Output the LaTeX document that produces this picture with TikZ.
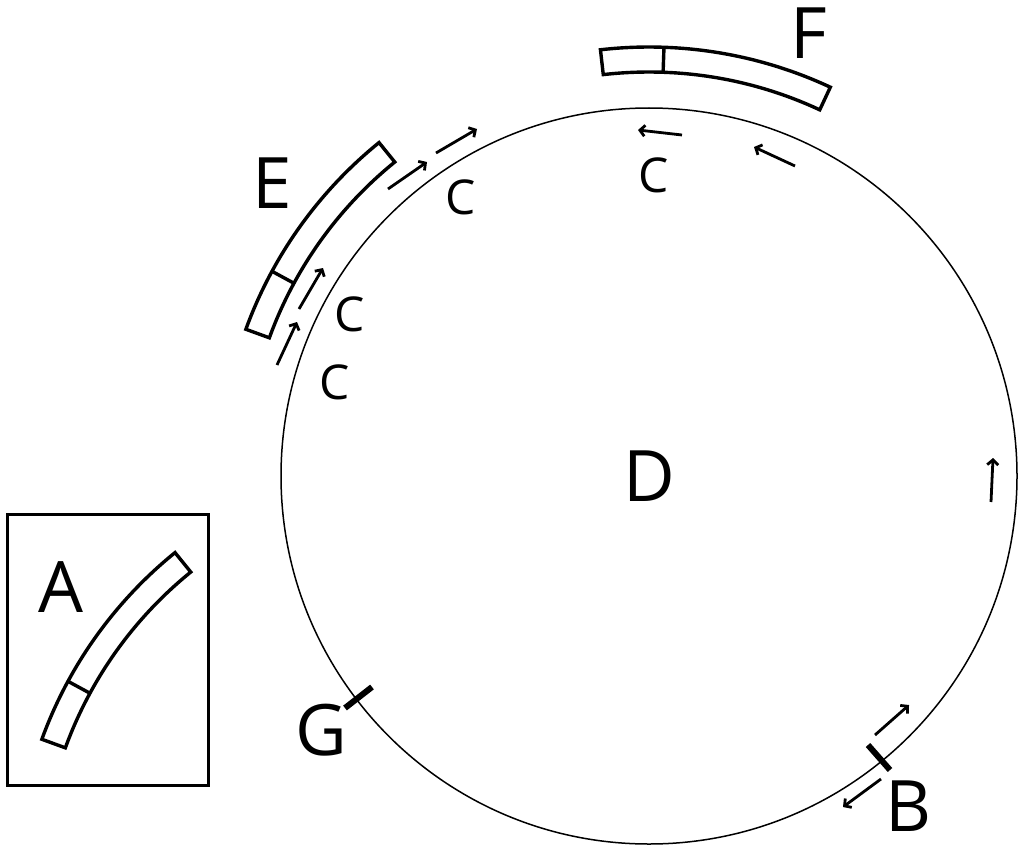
\documentclass[tikz,border=0pt]{standalone}
\usepackage{fontspec}
\setmainfont{Open Sans}
\usetikzlibrary{arrows.meta,calc}
% #1 centre, #2 start angle, #3 divider angle, #4 end angle (angles measured counter-clockwise, y up)
\newcommand{\plasmidband}[4]{%
  \draw[bandline] ($(#1)+({-#2}:404)$) arc[start angle={-#2}, end angle={-#4}, radius=404]
     -- ($(#1)+({-#4}:429)$) arc[start angle={-#4}, end angle={-#2}, radius=429] -- cycle;
  \draw[bandline] ($(#1)+({-#3}:404)$) -- ($(#1)+({-#3}:429)$);
}
\begin{document}
\begin{tikzpicture}[x=1pt,y=-1pt,
  bandline/.style={line width=3.4pt, line join=miter},
  arr/.style={line width=2.8pt, -{Straight Barb[length=5pt,width=11pt]}},
  tickmark/.style={line width=6pt},
  labelbig/.style={font=\fontsize{71}{80}\selectfont, inner sep=0pt},
  labelsmall/.style={font=\fontsize{48}{56}\selectfont, inner sep=0pt}]
\useasboundingbox (0,0) rectangle (1024,853);

% plasmid circle
\node[draw, circle, line width=1.5pt, minimum size=736pt, inner sep=0pt, labelbig] (D) at (649,476) {D};
\coordinate (Dc) at (649,476);

% inserted bands
\plasmidband{Dc}{129}{151.5}{160}
\plasmidband{Dc}{65}{88}{96.5}

% box A
\draw[line width=3pt] (7.5,514) rectangle (208,785);
\coordinate (Ac) at (445,886);
\plasmidband{Ac}{129}{151.5}{160}

% tick marks
\draw[tickmark] (345,708) -- (372,687);
\draw[tickmark] (868,745) -- (890,770);

% arrows
\coordinate (a1s) at (388,189); \coordinate (a1e) at (427,162);
\coordinate (a2s) at (436,153); \coordinate (a2e) at (477,129);
\coordinate (a3s) at (299,309); \coordinate (a3e) at (323,268);
\coordinate (a4s) at (277,365); \coordinate (a4e) at (297,322);
\coordinate (a5s) at (682,135); \coordinate (a5e) at (638,130);
\coordinate (a6s) at (795,166); \coordinate (a6e) at (754,147);
\coordinate (a7s) at (875,735); \coordinate (a7e) at (909,705);
\coordinate (a8s) at (881,779); \coordinate (a8e) at (843,807);
\coordinate (a9s) at (991,502); \coordinate (a9e) at (993,458);
\foreach \i in {1,...,9} {\draw[arr] (a\i s) -- (a\i e);}

% labels
\node[labelbig] (E) at (272,183) {E};
\node[labelbig] (F) at (809,33) {F};
\node[labelbig] (A) at (61,587) {A};
\node[labelbig] (G) at (321,730) {G};
\node[labelbig] (B) at (908,806) {B};
\node[labelsmall] (C1) at (461,197) {C};
\node[labelsmall] (C2) at (654,175) {C};
\node[labelsmall] (C3) at (350,314) {C};
\node[labelsmall] (C4) at (335,382) {C};
\end{tikzpicture}
\end{document}
